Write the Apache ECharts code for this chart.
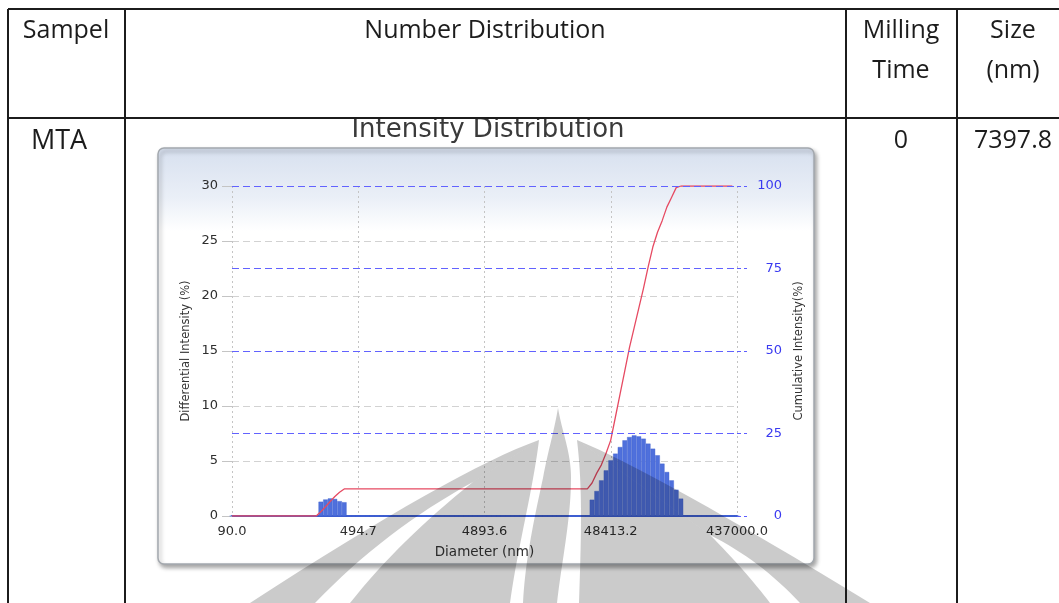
<!DOCTYPE html>
<html>
<head>
<meta charset="utf-8">
<script src="https://cdn.jsdelivr.net/npm/echarts@6/dist/echarts.min.js"></script>
<style>
  html, body { margin: 0; padding: 0; background: #ffffff; }
  #chart { width: 1059px; height: 603px; }
</style>
</head>
<body>
<div id="chart"></div>
<script>
// Size channels of the analyser (log-spaced bins), labelled every 27th channel
const channelCount = 109;
const tickStep = 27;
const tickLabels = ['90.0', '494.7', '4893.6', '48413.2', '437000.0'];

// Differential intensity (%) – small population
const smallPeakStart = 19;
const smallPeak = [1.3, 1.5, 1.6, 1.55, 1.35, 1.25];
// Differential intensity (%) – main population
const mainPeakStart = 77;
const mainPeak = [1.48, 2.27, 3.24, 4.15, 5.06, 5.67, 6.27, 6.88, 7.18, 7.33,
                  7.24, 7.03, 6.58, 6.12, 5.52, 4.76, 4.0, 3.24, 2.39, 1.58];

// Cumulative intensity (%) at channel positions
const cumChannel = [0, 18, 19, 20, 21, 22, 23, 24, 76, 77, 78, 79, 80, 81, 82, 83, 84, 85,
                    86, 87, 88, 89, 90, 91, 92, 93, 94, 95, 96, 107];
const cumPercent = [0, 0, 1.3, 2.8, 4.4, 5.9, 7.2, 8.2, 8.2, 10, 13, 15.5, 19, 23, 30, 37, 44, 51,
                    57, 63, 69, 75.5, 81.5, 86, 89.5, 93.6, 96.5, 99.5, 100, 100];
// Reference levels of the cumulative scale
const cumLevels = [25, 50, 75, 100];

// Table cells
const headers = ['Sampel', 'Number Distribution', 'Milling', 'Time', 'Size', '(nm)'];
const rowValues = ['MTA', '0', '7397.8'];

const channels = Array.from({ length: channelCount }, (_, i) => String(i));
const differential = new Array(channelCount).fill(0);
smallPeak.forEach((v, i) => { differential[smallPeakStart + i] = v; });
mainPeak.forEach((v, i) => { differential[mainPeakStart + i] = v; });
const cumulative = cumChannel.map((c, i) => [c, cumPercent[i]]);

const chart = echarts.init(document.getElementById('chart'), null, { renderer: 'canvas' });

const tableFont = "'Open Sans', 'Noto Sans', sans-serif";
const axisFont = "'DejaVu Sans', sans-serif";
const ink = '#1c1c1c';

function hLine(x1, x2, y) {
  return { type: 'line', shape: { x1, y1: y, x2, y2: y }, style: { stroke: ink, lineWidth: 2 }, z: 10 };
}
function vLine(x, y1, y2) {
  return { type: 'line', shape: { x1: x, y1, x2: x, y2 }, style: { stroke: ink, lineWidth: 2 }, z: 10 };
}
function cellText(text, x, y, size) {
  return {
    type: 'text', x, y, z: 10,
    style: { text, fill: ink, font: (size || 25) + 'px ' + tableFont, textAlign: 'center', textVerticalAlign: 'middle' }
  };
}

// Flatten a simple absolute path (M, L, Q, C, Z) into polygon points
function outline(d) {
  const tok = d.match(/[MLQCZ]|-?\d+(\.\d+)?/g);
  const pts = [];
  let i = 0, cur = [0, 0], cmd = '';
  const num = () => parseFloat(tok[i++]);
  while (i < tok.length) {
    if (/[MLQCZ]/.test(tok[i])) cmd = tok[i++];
    if (cmd === 'Z') continue;
    if (cmd === 'M' || cmd === 'L') {
      cur = [num(), num()]; pts.push(cur);
    } else if (cmd === 'Q') {
      const c1 = [num(), num()], p = [num(), num()], p0 = cur;
      for (let k = 1; k <= 16; k++) {
        const t = k / 16, u = 1 - t;
        pts.push([u * u * p0[0] + 2 * u * t * c1[0] + t * t * p[0],
                  u * u * p0[1] + 2 * u * t * c1[1] + t * t * p[1]]);
      }
      cur = p;
    } else if (cmd === 'C') {
      const c1 = [num(), num()], c2 = [num(), num()], p = [num(), num()], p0 = cur;
      for (let k = 1; k <= 20; k++) {
        const t = k / 20, u = 1 - t;
        pts.push([u * u * u * p0[0] + 3 * u * u * t * c1[0] + 3 * u * t * t * c2[0] + t * t * t * p[0],
                  u * u * u * p0[1] + 3 * u * u * t * c1[1] + 3 * u * t * t * c2[1] + t * t * t * p[1]]);
      }
      cur = p;
    }
  }
  return pts;
}
// faint grey emblem printed across the lower part of the page
function emblem(d) {
  return {
    type: 'polygon', z: 8, silent: true,
    shape: { points: outline(d) },
    style: { fill: '#cbcbcb', blend: 'multiply' }
  };
}

const option = {
  backgroundColor: '#ffffff',
  animation: false,
  grid: { left: 232, right: 322, top: 186, bottom: 87, containLabel: false },
  xAxis: {
    type: 'category',
    data: channels,
    boundaryGap: false,
    axisLine: { show: true, lineStyle: { color: '#3d5ed2', width: 2 } },
    axisTick: { show: false },
    axisLabel: {
      interval: (i) => i % tickStep === 0,
      formatter: (v, i) => tickLabels[i / tickStep],
      color: '#2e2e2e', fontSize: 13, fontFamily: axisFont, margin: 9
    },
    splitLine: {
      show: true,
      interval: (i) => i % tickStep === 0,
      lineStyle: { color: '#c4c4c4', type: [2, 3], width: 1 }
    },
    name: 'Diameter (nm)',
    nameLocation: 'middle',
    nameGap: 29,
    nameTextStyle: { color: '#333', fontSize: 13.5, fontFamily: axisFont }
  },
  yAxis: [
    {
      type: 'value', min: 0, max: 30, interval: 5, position: 'left',
      axisLine: { show: false },
      axisTick: { show: true, length: 10, lineStyle: { color: '#c4c4c4' } },
      axisLabel: { color: '#2e2e2e', fontSize: 13, fontFamily: axisFont, margin: 14 },
      splitLine: { show: true, lineStyle: { color: '#d2d2d2', type: [7, 4], width: 1 } },
      name: 'Differential Intensity (%)',
      nameLocation: 'middle', nameGap: 40, nameRotate: 90,
      nameTextStyle: { color: '#333', fontSize: 11.5, fontFamily: axisFont }
    },
    {
      type: 'value', min: 0, max: 100, interval: 25, position: 'right',
      axisLine: { show: false },
      axisTick: { show: true, length: 10, lineStyle: { color: '#5d5dff', type: [4, 3] } },
      axisLabel: { color: '#3a3af0', fontSize: 13, fontFamily: axisFont, margin: 45, align: 'right' },
      splitLine: { show: false },
      name: 'Cumulative Intensity(%)',
      nameLocation: 'middle', nameGap: 56, nameRotate: 90,
      nameTextStyle: { color: '#333', fontSize: 11.5, fontFamily: axisFont }
    }
  ],
  series: [
    {
      name: 'Differential Intensity',
      type: 'bar',
      yAxisIndex: 0,
      data: differential,
      barWidth: '100%',
      barCategoryGap: '0%',
      itemStyle: { color: '#4f70dc', borderColor: '#4262cf', borderWidth: 0.4 },
      z: 2
    },
    {
      name: 'Cumulative Intensity',
      type: 'line',
      yAxisIndex: 1,
      data: cumulative,
      showSymbol: false,
      lineStyle: { color: '#e64a62', width: 1.3 },
      z: 3,
      markLine: {
        silent: true,
        symbol: 'none',
        label: { show: false },
        lineStyle: { color: '#6262ff', type: [7, 4], width: 1 },
        data: cumLevels.map((v) => ({ yAxis: v }))
      }
    }
  ],
  graphic: [
    // chart panel
    {
      type: 'rect', z: -10,
      shape: { x: 158, y: 148, width: 656, height: 416, r: 6 },
      style: {
        fill: new echarts.graphic.LinearGradient(0, 0, 0, 1, [
          { offset: 0, color: '#d7e0ef' },
          { offset: 0.12, color: '#eaeff7' },
          { offset: 0.2, color: '#ffffff' },
          { offset: 1, color: '#ffffff' }
        ]),
        stroke: '#a3a8ae', lineWidth: 1.5,
        shadowBlur: 4, shadowOffsetX: 2, shadowOffsetY: 3, shadowColor: 'rgba(0,0,0,0.35)'
      }
    },
    {
      type: 'text', x: 488, y: 130, z: 5,
      style: { text: 'Intensity Distribution', fill: '#3a3a3a', font: '26px ' + axisFont,
               textAlign: 'center', textVerticalAlign: 'middle' }
    },
    // emblem: central torch and the leaves on either side
    emblem('M558,408 C562,432 571,452 571,478 C571,520 561,565 557,603 L523,603 C525,560 535,515 543,478 C547,455 554,432 558,408 Z'),
    emblem('M539,440 Q455,470 250,603 L315,603 Q385,530 473,482 L539,440 Z'),
    emblem('M539,440 L473,482 Q400,540 350,603 L510,603 C517,550 533,490 539,440 Z'),
    emblem('M577,440 Q655,472 870,603 L800,603 Q760,560 710,535 L577,440 Z'),
    emblem('M577,440 L710,535 Q745,570 770,603 L579,603 C581,540 583,490 577,440 Z'),
    // table grid
    hLine(8, 1059, 9),
    hLine(8, 1059, 118),
    vLine(8, 9, 603),
    vLine(125, 9, 603),
    vLine(846, 9, 603),
    vLine(957, 9, 603),
    cellText(headers[0], 66, 31),
    cellText(headers[1], 485, 31),
    cellText(headers[2], 901, 31),
    cellText(headers[3], 901, 71),
    cellText(headers[4], 1013, 31),
    cellText(headers[5], 1013, 71),
    cellText(rowValues[0], 59, 141, 27),
    cellText(rowValues[1], 901, 141),
    cellText(rowValues[2], 1013, 141)
  ]
};

chart.setOption(option);
</script>
</body>
</html>
